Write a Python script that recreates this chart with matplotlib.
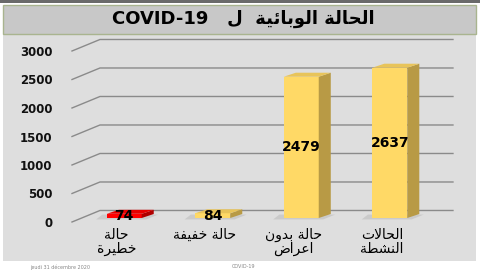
import re
import matplotlib
matplotlib.use('Agg')
import matplotlib.pyplot as plt
from matplotlib.patches import Polygon, Rectangle

# ---------------- data ----------------
title = 'الحالة الوبائية  ل   COVID-19'
categories = ['حالة\nخطيرة', 'حالة خفيفة', 'حالة بدون\nاعراض', 'الحالات\nالنشطة']
values = [74, 84, 2479, 2637]
ytick_values = [0, 500, 1000, 1500, 2000, 2500, 3000]
footer_left = 'jeudi 31 décembre 2020'
footer_mid = 'COVID-19'

# ---------------- minimal Arabic shaping (presentation forms) ----------------
FORMS = {
    'ا': ('\uFE8D', '\uFE8E', None, None),
    'ب': ('\uFE8F', '\uFE90', '\uFE91', '\uFE92'),
    'ة': ('\uFE93', '\uFE94', None, None),
    'ت': ('\uFE95', '\uFE96', '\uFE97', '\uFE98'),
    'ح': ('\uFEA1', '\uFEA2', '\uFEA3', '\uFEA4'),
    'خ': ('\uFEA5', '\uFEA6', '\uFEA7', '\uFEA8'),
    'د': ('\uFEA9', '\uFEAA', None, None),
    'ر': ('\uFEAD', '\uFEAE', None, None),
    'ش': ('\uFEB5', '\uFEB6', '\uFEB7', '\uFEB8'),
    'ض': ('\uFEBD', '\uFEBE', '\uFEBF', '\uFEC0'),
    'ط': ('\uFEC1', '\uFEC2', '\uFEC3', '\uFEC4'),
    'ع': ('\uFEC9', '\uFECA', '\uFECB', '\uFECC'),
    'ف': ('\uFED1', '\uFED2', '\uFED3', '\uFED4'),
    'ل': ('\uFEDD', '\uFEDE', '\uFEDF', '\uFEE0'),
    'ن': ('\uFEE5', '\uFEE6', '\uFEE7', '\uFEE8'),
    'و': ('\uFEED', '\uFEEE', None, None),
    'ي': ('\uFEF1', '\uFEF2', '\uFEF3', '\uFEF4'),
    'ئ': ('\uFE89', '\uFE8A', '\uFE8B', '\uFE8C'),
}


def dual(c):
    return c in FORMS and FORMS[c][2] is not None


def shape_word(w):
    out = []
    k = 0
    n = len(w)
    while k < n:
        c = w[k]
        if c not in FORMS:
            out.append(c)
            k += 1
            continue
        prev_join = k > 0 and dual(w[k - 1])
        if c == 'ل' and k + 1 < n and w[k + 1] == 'ا':
            out.append('\uFEFC' if prev_join else '\uFEFB')
            k += 2
            continue
        next_join = dual(c) and k + 1 < n and w[k + 1] in FORMS
        iso, fin, ini, med = FORMS[c]
        if prev_join and next_join:
            out.append(med)
        elif prev_join:
            out.append(fin)
        elif next_join:
            out.append(ini)
        else:
            out.append(iso)
        k += 1
    return ''.join(out)


def is_arabic(s):
    return any('\u0600' <= ch <= '\u06FF' for ch in s)


def visual(line):
    toks = re.split(r'(\s+)', line)
    toks = toks[::-1]
    res = []
    for t in toks:
        if is_arabic(t):
            res.append(shape_word(t)[::-1])
        else:
            res.append(t)
    return ''.join(res)


def visual_multi(text):
    return '\n'.join(visual(l) for l in text.split('\n'))


# ---------------- figure ----------------
W, H = 480, 274
fig = plt.figure(figsize=(W / 100, H / 100), dpi=100)
fig.patch.set_facecolor('white')


def fig_rect(x, y, w, h, **kw):
    fig.add_artist(Rectangle((x / W, 1 - (y + h) / H), w / W, h / H,
                             transform=fig.transFigure, zorder=-10, **kw))


fig_rect(0, 0, 480, 3, facecolor='#6a6a6a', edgecolor='none')
fig_rect(3, 34, 473, 227, facecolor='#dedede', edgecolor='none')
fig_rect(3, 5, 473, 29, facecolor='#c8c8c8', edgecolor='#a9b48f', linewidth=1.0)

fig.text(243 / W, 1 - 19 / H, visual(title), ha='center', va='center',
         fontsize=13, fontweight='bold', color='black', family='DejaVu Sans')
fig.text(30 / W, 1 - 267 / H, footer_left, ha='left', va='center',
         fontsize=3.5, color='#888888')
fig.text(232 / W, 1 - 267 / H, footer_mid, ha='left', va='center',
         fontsize=3.5, color='#888888')

ax = fig.add_axes([72 / W, 52 / H, 353 / W, 171 / H])
ax.patch.set_alpha(0)
for s in ax.spines.values():
    s.set_visible(False)
ax.set_xlim(-0.5, 3.488)
ax.set_ylim(0, 3000)

# wall / floor depth
DX, DY = 0.316, 202
x0, x1 = ax.get_xlim()
for t in ytick_values:
    ax.plot([x0, x0 + DX, x1 + DX], [t, t + DY, t + DY], color='#8a8a8a',
            lw=1.0, clip_on=False, zorder=1)

# 3D bars
BX, BY = 0.09, 70
BW = 0.395
SDX, SDY = 0.136, 70
styles = [('#ff0000', '#b00000', '#e60000'),
          ('#ffd966', '#b89a45', '#e8c45a'),
          ('#ffd966', '#b89a45', '#e8c45a'),
          ('#ffd966', '#b89a45', '#e8c45a')]
for i, v in enumerate(values):
    front, side, top = styles[i]
    cx = i + BX
    l, r = cx - BW / 2, cx + BW / 2
    b, t = BY, BY + v
    # shadow on floor
    ax.add_patch(Polygon([(l - 0.12, b - 25), (r + 0.05, b - 25),
                          (r + SDX + 0.05, b + SDY - 10), (l - 0.05, b + SDY - 10)],
                         closed=True, facecolor='#bdbdbd', edgecolor='none',
                         alpha=0.6, zorder=2, clip_on=False))
    ax.add_patch(Rectangle((l, b), BW, v, facecolor=front, edgecolor='none',
                           zorder=3, clip_on=False))
    ax.add_patch(Polygon([(r, b), (r + SDX, b + SDY), (r + SDX, t + SDY), (r, t)],
                         closed=True, facecolor=side, edgecolor='none', zorder=3,
                         clip_on=False))
    ax.add_patch(Polygon([(l, t), (r, t), (r + SDX, t + SDY), (l + SDX, t + SDY)],
                         closed=True, facecolor=top, edgecolor='none', zorder=3,
                         clip_on=False))
    ax.text(cx, BY + v / 2, f'{v}', ha='center', va='center', fontsize=10,
            fontweight='bold', color='black', zorder=5)

ax.set_yticks(ytick_values)
ax.set_yticklabels([str(t) for t in ytick_values], fontsize=8.5,
                   fontweight='bold', color='#111111')
ax.tick_params(axis='y', length=0, pad=14)
ax.set_xticks(range(len(categories)))
ax.set_xticklabels([visual_multi(c) for c in categories], fontsize=10,
                   color='black', family='DejaVu Sans', linespacing=1.0)
ax.tick_params(axis='x', length=0, pad=4)

fig.savefig('out.png', dpi=100, facecolor=fig.get_facecolor())
